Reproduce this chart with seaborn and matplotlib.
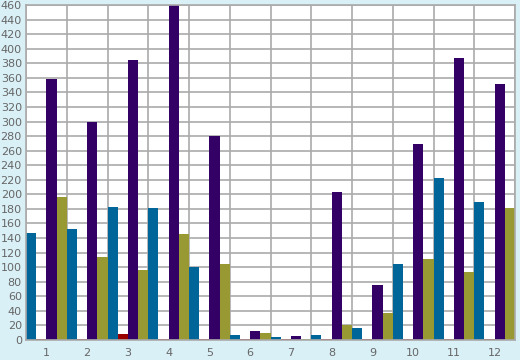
import matplotlib
matplotlib.use("Agg")
import matplotlib.pyplot as plt
import seaborn as sns
import pandas as pd
import numpy as np
from matplotlib.ticker import MultipleLocator, FixedLocator

categories = ["1", "2", "3", "4", "5", "6", "7", "8", "9", "10", "11", "12"]
series_names = ["A", "B", "C", "D"]
blue = [147, 152, 182, 181, 100, 7, 4, 7, 16, 104, 222, 189]
red = [1, 1, 8, 1, 1, 1, 1, 1, 1, 1, 1, 1]
purple = [358, 299, 384, 460, 280, 13, 6, 203, 75, 269, 387, 351]
olive = [196, 114, 96, 145, 105, 10, 2, 21, 37, 111, 93, 181]
colors = ["#006699", "#990000", "#330066", "#999933"]

rows = []
for name, vals in zip(series_names, [blue, red, purple, olive]):
    for c, v in zip(categories, vals):
        rows.append({"cat": c, "series": name, "value": v})
df = pd.DataFrame(rows)

sns.set_style("white")
plt.rcParams['font.family'] = ['DejaVu Sans']

fig = plt.figure(figsize=(5.2, 3.6), dpi=100)
fig.patch.set_facecolor("#daf0f7")
ax = fig.add_axes([26/520, 1-340/360, (515-26)/520, 335/360])
ax.set_facecolor("white")

sns.barplot(data=df, x="cat", y="value", hue="series", order=categories,
            hue_order=series_names, palette=colors, width=1.0, gap=0,
            saturation=1, errorbar=None, linewidth=0, legend=False, ax=ax)

ax.set_xlim(-0.5, 11.5)
ax.set_ylim(0, 460)
ax.yaxis.set_major_locator(MultipleLocator(20))
ax.set_xlabel("")
ax.set_ylabel("")

ax.xaxis.set_minor_locator(FixedLocator(np.arange(-0.5, 12, 1)))
ax.grid(False)
ax.grid(axis="y", which="major", color="#aaaaaa", linewidth=1.2)
ax.grid(axis="x", which="minor", color="#aaaaaa", linewidth=1.2)
ax.set_axisbelow(True)

ax.tick_params(axis="x", which="major", length=0, pad=6, labelsize=8, labelcolor="#666666")
ax.tick_params(axis="x", which="minor", length=5, width=1.2, color="#888888")
ax.tick_params(axis="y", which="major", length=0, pad=3, labelsize=8, labelcolor="#666666")

for side in ["left", "top", "right", "bottom"]:
    ax.spines[side].set_visible(True)
    ax.spines[side].set_color("#aaaaaa")
    ax.spines[side].set_linewidth(1.2)

fig.savefig("out.png", dpi=100, facecolor=fig.get_facecolor())
